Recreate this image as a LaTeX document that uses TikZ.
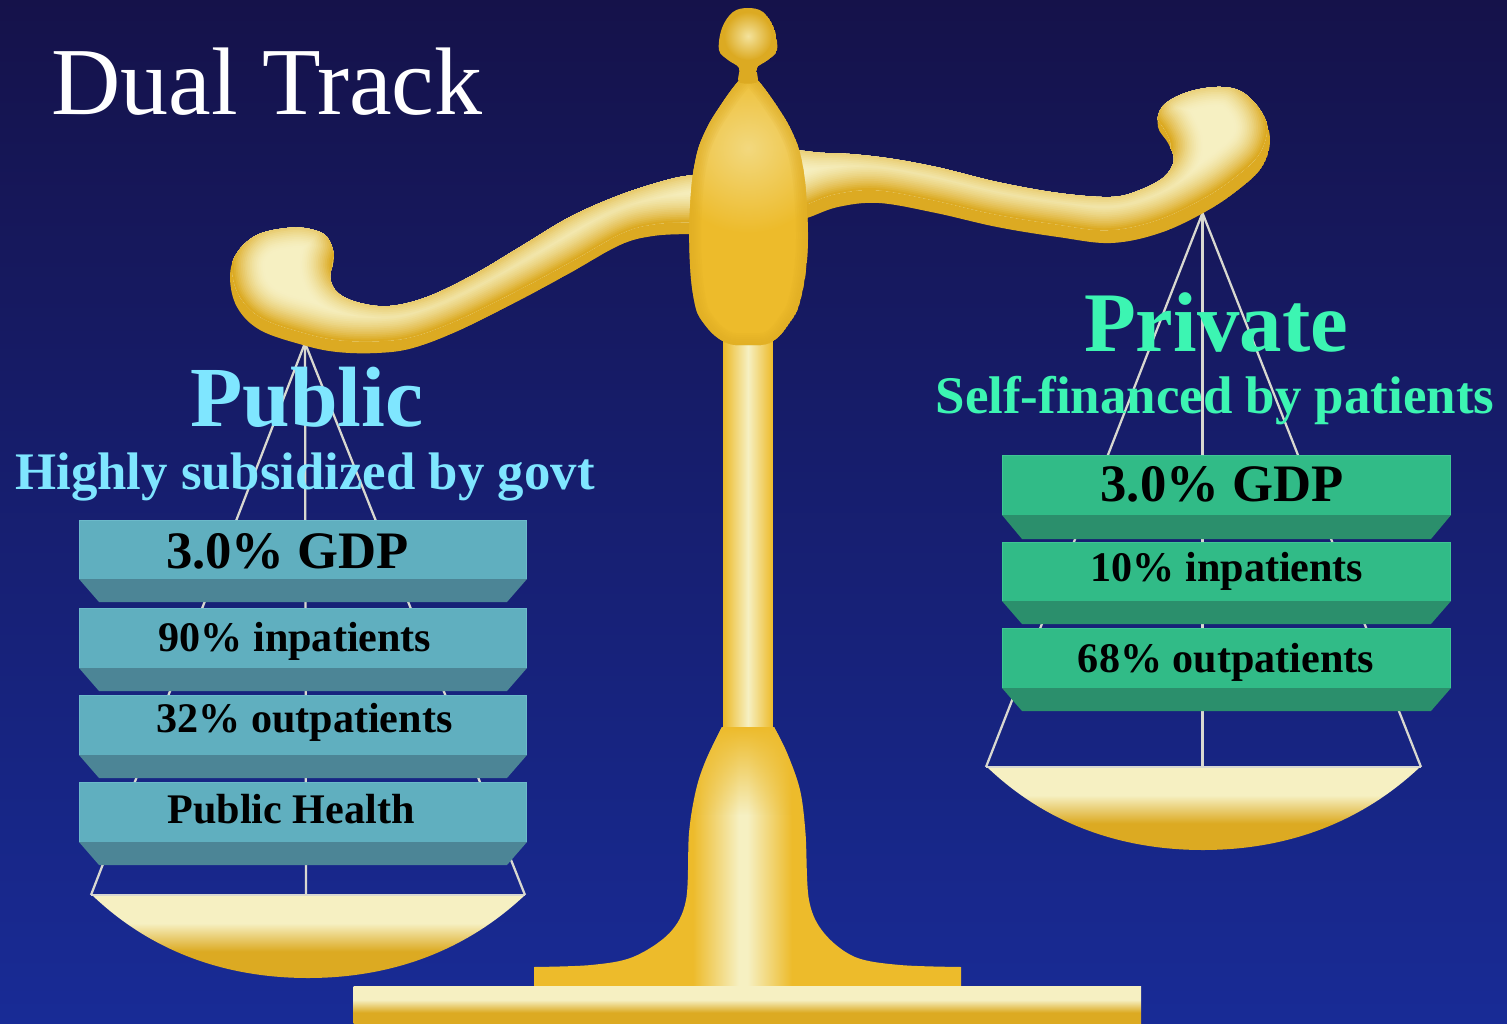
\documentclass[tikz,border=0pt]{standalone}
\usepackage{fontspec}
\setmainfont{Liberation Serif}
\usetikzlibrary{fadings}
\definecolor{bgtop}{HTML}{15124A}
\definecolor{bgmid}{HTML}{16216E}
\definecolor{bgbot}{HTML}{182B96}
\definecolor{gld}{HTML}{DCAA22}
\definecolor{gldb}{HTML}{EDBB2B}
\definecolor{crm}{HTML}{F6F0C2}
\definecolor{strg}{HTML}{D8D8D0}
\definecolor{tealf}{HTML}{60AFBF}
\definecolor{teald}{HTML}{4C8596}
\definecolor{teall}{HTML}{6CBACA}
\definecolor{grnf}{HTML}{31BB87}
\definecolor{grnd}{HTML}{2B8F6C}
\definecolor{grnl}{HTML}{3FC694}
\definecolor{pubc}{HTML}{7FE6FF}
\definecolor{pric}{HTML}{3CF5B2}
\pgfdeclareverticalshading{panshade}{100bp}{color(0bp)=(gld);color(25bp)=(gld);color(41bp)=(gld);color(58bp)=(crm);color(100bp)=(crm)}
\pgfdeclareverticalshading{barshade}{100bp}{color(0bp)=(gld);color(25bp)=(gld);color(40bp)=(gld);color(57bp)=(crm);color(100bp)=(crm)}
\pgfdeclarehorizontalshading{footshade}{100bp}{color(0bp)=(gldb);color(43.6bp)=(gldb);color(49bp)=(crm);color(50bp)=(crm);color(55.2bp)=(gldb);color(100bp)=(gldb)}
\tikzset{
  cord/.style={draw=strg,line width=1.7pt},
  panrim/.style={draw=strg,line width=1pt},
  title/.style={anchor=base,inner sep=0pt,font=\fontsize{72}{72}\selectfont,text=white},
  bigpub/.style={anchor=base,inner sep=0pt,font=\bfseries\fontsize{64.2}{64}\selectfont,text=pubc},
  subpub/.style={anchor=base,inner sep=0pt,font=\bfseries\fontsize{39.6}{40}\selectfont,text=pubc},
  bigpri/.style={anchor=base,inner sep=0pt,font=\bfseries\fontsize{63.6}{64}\selectfont,text=pric},
  subpri/.style={anchor=base,inner sep=0pt,font=\bfseries\fontsize{39.7}{40}\selectfont,text=pric},
  gdp/.style={anchor=base,inner sep=0pt,font=\bfseries\fontsize{39.5}{40}\selectfont,text=black},
  item/.style={anchor=base,inner sep=0pt,font=\bfseries\fontsize{31.6}{32}\selectfont,text=black},
}
% x0 x1 top front bottom colourprefix
\newcommand{\slab}[6]{%
  \fill[#6d] (#1,#4) -- (#2,#4) -- ({#2-20},#5) -- ({#1+20},#5) -- cycle;
  \fill[#6f] (#1,#3) rectangle (#2,#4);
  \draw[#6l,line width=.6pt] (#1+.5,#4) -- (#1+.5,#3+.5) -- (#2-.5,#3+.5) -- (#2-.5,#4);
}
% path, shift x, shift y, max glow
\newcommand{\goldglow}[4]{%
  \begin{scope}
    \clip #1;
    \fill[gld] #1;
    \begin{scope}[shift={(#2,#3)}]
      \clip #1;
      \fill[crm] #1;
      \foreach \k in {18,17,...,1}{
        \pgfmathsetmacro{\wd}{2*#4*\k/18*0.75}
        \pgfmathsetmacro{\pc}{100*pow(1-(\k-1)/18,1.6)}
        \draw[gld!\pc!crm,line width=\wd pt,line join=round] #1;
      }
    \end{scope}
  \end{scope}
}
\newcommand{\beamR}{plot[smooth cycle,tension=.6] coordinates {(780,157)(825,153)(879,157)(936,167)(997,182)(1058,193)(1111,197)(1140,190)(1164,177)(1174,160)(1168,143)(1158,127)(1162,107)(1185,93)(1217,87)(1242,92)(1262,113)(1270,140)(1262,167)(1238,190)(1205,212)(1160,233)(1111,243)(1058,237)(997,227)(936,213)(879,203)(838,207)(807,218)(780,225)}}
\newcommand{\beamL}{plot[smooth cycle,tension=.6] coordinates {(720,172)(693,175)(667,180)(620,195)(570,217)(520,247)(473,275)(427,297)(390,306)(360,303)(338,293)(330,277)(334,257)(327,237)(310,229)(287,228)(257,235)(237,253)(230,277)(237,307)(260,330)(303,345)(337,352)(377,353)(413,348)(460,330)(520,300)(570,273)(620,245)(653,236)(690,234)(720,234)}}
\newcommand{\ovalbody}{plot[smooth cycle,tension=.7] coordinates {(748.5,76)(757.5,80)(777.5,107)(792.5,133)(801.5,160)(806.5,200)(807.5,253)(800.5,300)(789.5,323)(771.5,342)(748.5,345)(724.5,342)(703.5,323)(694,300)(689.5,253)(690.5,200)(695.5,160)(704.5,133)(719.5,107)(739.5,80)}}
\newcommand{\ballbody}{plot[smooth cycle,tension=.6] coordinates {(748,8)(763,12)(774,28)(777,50)(768,60)(757,68)(757,82)(739,82)(739,68)(728,60)(719,50)(722,28)(733,12)}}
\newcommand{\footbody}{plot[smooth,tension=.55] coordinates {(722,727)(706,760)(696,790)(689,833)(686,900)(669.5,933)(633,957)(591,965)(534,967)} -- (534,987) -- (961,987) -- plot[smooth,tension=.55] coordinates {(961,967)(900,965)(855,957)(824,933)(809,900)(805.5,833)(800,790)(787,753)(774,727)} -- cycle}
\begin{document}
\begin{tikzpicture}[x=0.75pt,y=-0.75pt]
\useasboundingbox (0,0) rectangle (1507,1024);
\shade[top color=bgtop,middle color=bgmid,bottom color=bgbot] (0,0) rectangle (1507,1024);

% cords
\coordinate (la) at (305,343);
\coordinate (lpl) at (91,895);
\coordinate (lpm) at (306,895);
\coordinate (lpr) at (525,895);
\coordinate (ra) at (1202.5,213);
\coordinate (rpl) at (986,767);
\coordinate (rpm) at (1202.5,767);
\coordinate (rpr) at (1421,767);
\draw[cord] (la) -- (lpl);
\draw[cord] (la) -- (lpm);
\draw[cord] (la) -- (lpr);
\draw[cord] (ra) -- (rpl);
\draw[cord] (ra) -- (rpm);
\draw[cord] (ra) -- (rpr);

% pans
\shade[shading=panshade] (92,895) .. controls (160,960) and (240,978) .. (308,978) .. controls (376,978) and (456,960) .. (525,895) -- cycle;
\draw[panrim] (lpl) -- (lpr);
\shade[shading=panshade] (987,767) .. controls (1055,832) and (1135,850) .. (1203,850) .. controls (1271,850) and (1351,832) .. (1420,767) -- cycle;
\draw[panrim] (rpl) -- (rpr);

% beams
\goldglow{\beamR}{-3}{-13}{32}
\goldglow{\beamL}{2}{-12}{32}

% stand
\shade[left color=gldb,right color=gldb,middle color=crm] (723.5,338) rectangle (772.5,728);
\begin{scope}
  \clip \footbody;
  \shade[shading=footshade] (534,727) rectangle (961,987);
  \fill[gldb,path fading=south] (680,727) rectangle (820,815);
\end{scope}
\shade[shading=barshade] (353.5,986) rectangle (1141,1024);
\begin{scope}
  \clip \ovalbody;
  \fill[gldb] \ovalbody;
  \shade[inner color=crm!55!gldb,outer color=gldb] (748,148) circle[radius=85];
  \foreach \k in {6,5,...,1}{
    \pgfmathsetmacro{\wd}{\k*3}
    \draw[gld,opacity=.12,line width=\wd pt] \ovalbody;
  }
\end{scope}
\begin{scope}
  \clip \ballbody;
  \fill[gld] \ballbody;
  \shade[inner color=crm!75!gldb,outer color=gld] (748,36) circle[radius=24];
\end{scope}

% slabs
\slab{79}{527}{520}{579}{602}{teal}
\slab{79}{527}{608}{668}{691}{teal}
\slab{79}{527}{695}{755}{778}{teal}
\slab{79}{527}{782}{842}{865}{teal}
\slab{1002}{1451}{455}{515}{539}{grn}
\slab{1002}{1451}{542}{601}{624}{grn}
\slab{1002}{1451}{628}{688}{711}{grn}

% texts
\node[title] (t) at (267,114) {Dual Track};
\node[bigpub] (pub) at (307,426) {Public};
\node[subpub] (pubs) at (305,489) {Highly subsidized by govt};
\node[gdp] (g1) at (287.5,568) {3.0\% GDP};
\node[item] (i1) at (295,651) {90\% inpatients};
\node[item] (i2) at (304.5,732) {32\% outpatients};
\node[item] (i3) at (291,823) {Public Health};
\node[bigpri] (pri) at (1216,351) {Private};
\node[subpri] (pris) at (1215,413) {Self-financed by patients};
\node[gdp] (g2) at (1222,501) {3.0\% GDP};
\node[item] (i4) at (1227,581) {10\% inpatients};
\node[item] (i5) at (1226,672) {68\% outpatients};
\end{tikzpicture}
\end{document}
